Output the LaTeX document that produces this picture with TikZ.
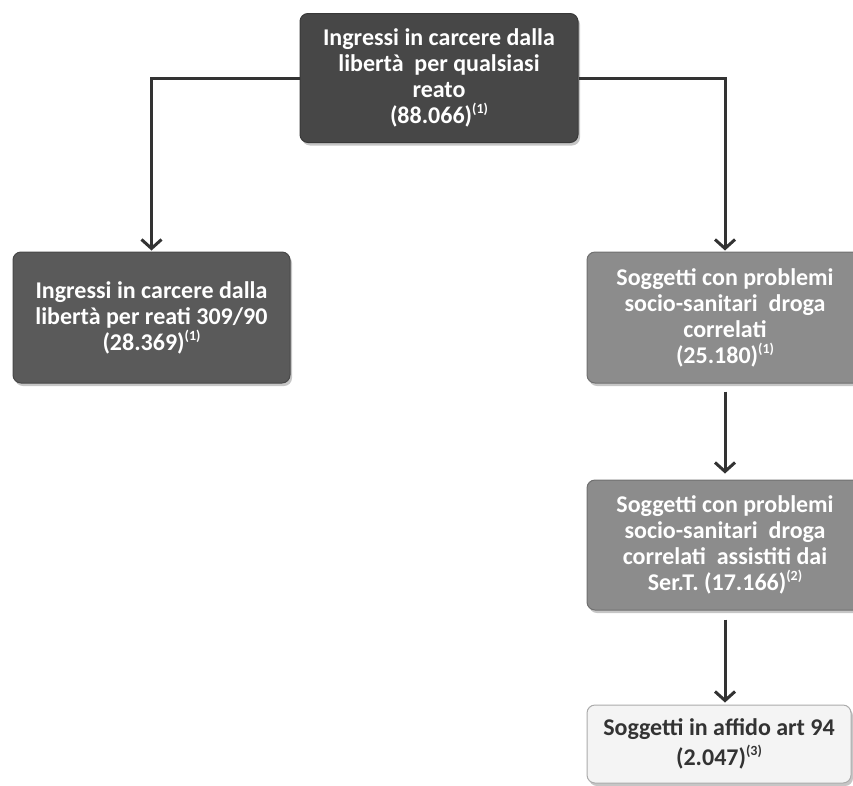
\documentclass[tikz,border=0pt]{standalone}
\usepackage{fontspec}
\setmainfont{Carlito}
\usetikzlibrary{arrows.meta,shadows}
\definecolor{cdark}{HTML}{474747}
\definecolor{cmid}{HTML}{5A5A5A}
\definecolor{clight}{HTML}{8C8C8C}
\definecolor{cpale}{HTML}{F4F4F4}
\definecolor{cline}{HTML}{333333}
\tikzset{
  box/.style={rectangle, rounded corners=8pt, draw=#1!80!black, line width=1pt, fill=#1,
    minimum height=130pt, inner sep=4pt, align=center,
    font=\bfseries\fontsize{24}{26}\selectfont, text=white,
    drop shadow={shadow xshift=2pt, shadow yshift=-3pt, opacity=0.45}},
  arr/.style={draw=cline, line width=3pt, -{Straight Barb[length=9pt,width=20pt,line width=3pt]}},
}
\newcommand{\fn}[1]{\raisebox{0.42em}{\fontsize{14}{14}\selectfont(#1)}}
\begin{document}
\begin{tikzpicture}[x=1pt,y=-1pt]
\useasboundingbox (0,0) rectangle (853,785);
\node[box=cdark, minimum width=278pt, minimum height=129pt] (top) at (439,78)
  {Ingressi in carcere dalla\\libertà\ \ per qualsiasi\\reato\\(88.066)\fn{1}};
\node[box=cmid, minimum width=277pt, minimum height=131pt] (left) at (151.5,317.5)
  {Ingressi in carcere dalla\\libertà per reati 309/90\\(28.369)\fn{1}};
\node[box=clight, minimum width=276pt, minimum height=131pt] (r1) at (725,317.5)
  {Soggetti con problemi\\socio-sanitari\ \ droga\\correlati\\(25.180)\fn{1}};
\node[box=clight, minimum width=276pt, minimum height=130pt] (r2) at (725,545)
  {Soggetti con problemi\\socio-sanitari\ \ droga\\correlati\ \ assistiti dai\\Ser.T. (17.166)\fn{2}};
\node[box=cpale, draw=cpale!70!black, text=cline, minimum width=264pt, minimum height=78pt,
  font=\bfseries\fontsize{24}{30}\selectfont] (r3) at (719,744)
  {Soggetti in affido art 94\\(2.047)\fn{3}};
\draw[arr] (top.west) -| ([yshift=1pt]left.north);
\draw[arr] (top.east) -| ([yshift=1pt]r1.north);
\draw[arr, shorten <=8pt, shorten >=6pt] (r1.south -| r1.north) -- (r2.north);
\draw[arr, shorten <=9pt, shorten >=2pt] (r2.south) -- (r2.south |- r3.north);
\end{tikzpicture}
\end{document}
